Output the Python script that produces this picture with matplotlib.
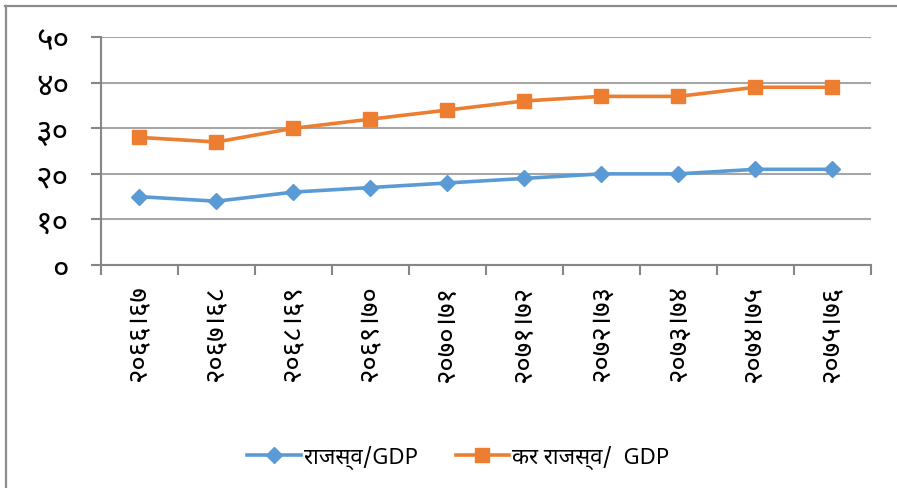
import matplotlib
matplotlib.use("Agg")
import matplotlib.pyplot as plt
from matplotlib.lines import Line2D

plt.rcParams['font.family'] = ['Noto Sans Devanagari', 'Noto Sans Devanagari UI', 'Mukta', 'DejaVu Sans']

# data
years = ["२०६६।६७", "२०६७।६८", "२०६८।६९", "२०६९।७०", "२०७०।७१",
         "२०७१।७२", "२०७२।७३", "२०७३।७४", "२०७४।७५", "२०७५।७६"]
rajaswa = [15, 14, 16, 17, 18, 19, 20, 20, 21, 21]
kar_rajaswa = [28, 27, 30, 32, 34, 36, 37, 37, 39, 39]
yticks = [0, 10, 20, 30, 40, 50]
ytick_labels = ["०", "१०", "२०", "३०", "४०", "५०"]
labels = ["राजस्व/GDP", "कर राजस्व/  GDP"]

blue = "#5B9BD5"
orange = "#ED7D31"
grid_c = "#A6A6A6"
axis_c = "#868686"

fig = plt.figure(figsize=(8.97, 4.89), dpi=100)
ax = fig.add_axes([0.1126, 0.456, 0.858, 0.466])

x = list(range(len(years)))
l1, = ax.plot(x, rajaswa, color=blue, lw=2.6, marker="D", ms=8, label=labels[0])
l2, = ax.plot(x, kar_rajaswa, color=orange, lw=2.6, marker="s", ms=10, label=labels[1])

ax.set_xlim(-0.5, len(years) - 0.5)
ax.set_ylim(0, 50)
ax.set_yticks(yticks)
ax.set_yticklabels(ytick_labels, fontsize=23)
ax.yaxis.grid(True, color=grid_c, lw=1.5)
ax.set_axisbelow(True)

ax.set_xticks(x)
ax.set_xticklabels(years, rotation=90, fontsize=20, va="top")
ax.set_xticks([i - 0.5 for i in range(len(years) + 1)], minor=True)
ax.tick_params(axis="x", which="major", length=0, pad=14)
ax.tick_params(axis="x", which="minor", length=7, color=axis_c, width=1.5)
ax.tick_params(axis="y", length=7, color=axis_c, width=1.5, pad=16)

for s in ["top", "right"]:
    ax.spines[s].set_visible(False)
for s in ["left", "bottom"]:
    ax.spines[s].set_color(axis_c)
    ax.spines[s].set_linewidth(1.5)

fig.legend(handles=[l1, l2], loc="center", bbox_to_anchor=(0.511, 0.063), ncol=2,
           frameon=False, fontsize=16, handlelength=2.4, handletextpad=0.15,
           columnspacing=1.7)

# outer chart border (only top and left edges visible in the crop)
fig.add_artist(Line2D([0.0056, 1.0], [0.9867, 0.9867], transform=fig.transFigure,
                      color="#8C8C8C", lw=1.6))
fig.add_artist(Line2D([0.0062, 0.0062], [0.0, 0.9867], transform=fig.transFigure,
                      color="#8C8C8C", lw=1.6))

fig.savefig("out.png", dpi=100)
